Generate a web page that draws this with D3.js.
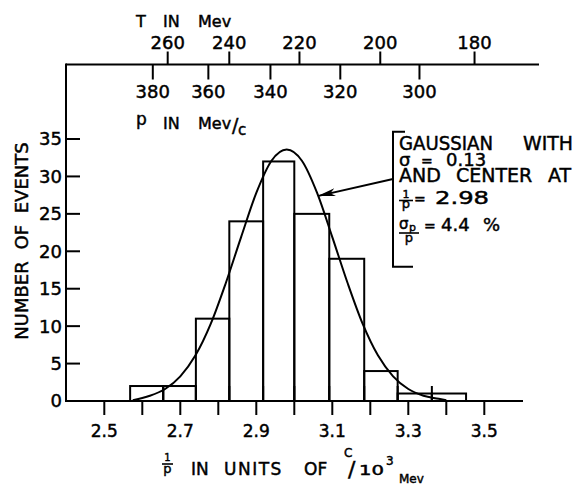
<!DOCTYPE html>
<html>
  <head>
    <meta charset="utf-8">
    <title>Number of events vs 1/p</title>
    <style>
      body { margin: 0; background: #fff; }
      svg text { font-family: "DejaVu Sans", sans-serif; fill: #000; stroke: #000; stroke-width: 0.45px; }
      .axis-line, .tick-line, .bar, .fit, .note-line {
        stroke: #000;
        stroke-width: 2;
        fill: none;
      }
    </style>
  </head>
  <body>
    <div id="chart"></div>
    <script src="https://d3js.org/d3.v7.min.js"></script>
    <script>
      // histogram bins (edges in 1/p, c/10^3 Mev) and counts
      var binEdges = [2.568, 2.655, 2.741, 2.829, 2.918, 3.000, 3.092, 3.184, 3.272, 3.362, 3.452];
      var counts = [2, 2, 11, 24, 32, 25, 19, 4, 1, 1];

      // gaussian curve
      var fitX = [2.575, 2.60, 2.62, 2.66, 2.70, 2.74, 2.78, 2.82, 2.86, 2.90, 2.94, 2.98,
                  3.02, 3.06, 3.10, 3.14, 3.18, 3.22, 3.26, 3.30, 3.34, 3.38, 3.40];
      var fitY = [0.1, 0.4, 0.7, 1.6, 3.3, 6.1, 10.3, 15.8, 21.9, 27.8, 32.1, 33.6,
                  32.1, 27.8, 21.9, 15.8, 10.3, 6.1, 3.3, 1.6, 0.7, 0.3, 0.1];

      var yTicks = [0, 5, 10, 15, 20, 25, 30, 35];
      var xTicks = [2.5, 2.6, 2.7, 2.8, 2.9, 3.0, 3.1, 3.2, 3.3, 3.4, 3.5];
      var xTickLabels = ['2.5', '', '2.7', '', '2.9', '', '3.1', '', '3.3', '', '3.5'];
      var pTicks = [380, 360, 340, 320, 300];   // p in Mev/c
      var tTicks = [260, 240, 220, 200, 180];   // T in Mev
      var pionMass = 139.6;

      var width = 575, height = 485;

      var svg = d3.select('#chart').append('svg')
        .attr('width', width)
        .attr('height', height);

      var x = d3.scaleLinear().domain([2.5, 3.5]).range([104.3, 484.3]);
      var xTop = x.copy().range([102.8, 482.8]);
      var y = d3.scaleLinear().domain([0, 35]).range([401, 139]);

      var left = 66, baseY = y(0), topY = 64.5;

      // frame lines
      svg.append('line').attr('class', 'axis-line')
        .attr('x1', left).attr('x2', 523).attr('y1', baseY).attr('y2', baseY);
      svg.append('line').attr('class', 'axis-line')
        .attr('x1', left).attr('x2', 539).attr('y1', topY).attr('y2', topY);
      svg.append('line').attr('class', 'axis-line')
        .attr('x1', left).attr('x2', left).attr('y1', topY - 1).attr('y2', baseY + 1);

      // left axis
      svg.selectAll('.ytick').data(yTicks).enter().append('line')
        .attr('class', 'tick-line')
        .attr('x1', left).attr('x2', left + 14)
        .attr('y1', function(d) { return y(d); })
        .attr('y2', function(d) { return y(d); });
      svg.selectAll('.ylab').data(yTicks).enter().append('text')
        .attr('x', 62)
        .attr('y', function(d) { return y(d); })
        .attr('dy', '0.36em')
        .attr('text-anchor', 'end')
        .style('font-size', '18px')
        .text(function(d) { return d; });
      svg.append('text')
        .attr('transform', 'translate(28,241) rotate(-90)')
        .attr('text-anchor', 'middle')
        .style('font-size', '18px')
        .style('word-spacing', '6px')
        .text('NUMBER OF EVENTS');

      // bottom axis
      svg.selectAll('.xtick').data(xTicks).enter().append('line')
        .attr('class', 'tick-line')
        .attr('x1', function(d) { return x(d); })
        .attr('x2', function(d) { return x(d); })
        .attr('y1', baseY).attr('y2', baseY + 14);
      svg.selectAll('.xlab').data(xTicks).enter().append('text')
        .attr('x', function(d) { return x(d); })
        .attr('y', 437)
        .attr('text-anchor', 'middle')
        .style('font-size', '17px')
        .text(function(d, i) { return xTickLabels[i]; });

      // small inward ticks at the bin edges
      svg.selectAll('.btick').data(binEdges.slice(1, -1)).enter().append('line')
        .attr('class', 'tick-line')
        .attr('x1', function(d) { return x(d); })
        .attr('x2', function(d) { return x(d); })
        .attr('y1', baseY).attr('y2', baseY - 15);

      // histogram
      svg.selectAll('.bar').data(counts).enter().append('rect')
        .attr('class', 'bar')
        .attr('x', function(d, i) { return x(binEdges[i]); })
        .attr('width', function(d, i) { return x(binEdges[i + 1]) - x(binEdges[i]); })
        .attr('y', function(d) { return y(d); })
        .attr('height', function(d) { return baseY - y(d); });

      // gaussian
      var fitPts = fitX.map(function(v, i) { return [v, fitY[i]]; });
      svg.append('path').attr('class', 'fit')
        .attr('d', d3.line()
          .x(function(d) { return x(d[0]); })
          .y(function(d) { return y(d[1]); })
          .curve(d3.curveMonotoneX)(fitPts));

      // top axis: p ticks (down) and T ticks (up)
      svg.selectAll('.ptick').data(pTicks).enter().append('line')
        .attr('class', 'tick-line')
        .attr('x1', function(d) { return xTop(1000 / d); })
        .attr('x2', function(d) { return xTop(1000 / d); })
        .attr('y1', topY).attr('y2', topY + 15);
      svg.selectAll('.plab').data(pTicks).enter().append('text')
        .attr('x', function(d) { return xTop(1000 / d); })
        .attr('y', 97.5)
        .attr('text-anchor', 'middle')
        .style('font-size', '18px')
        .text(function(d) { return d; });

      function tToP(t) { return Math.sqrt(t * t + 2 * t * pionMass); }
      svg.selectAll('.ttick').data(tTicks).enter().append('line')
        .attr('class', 'tick-line')
        .attr('x1', function(d) { return xTop(1000 / tToP(d)); })
        .attr('x2', function(d) { return xTop(1000 / tToP(d)); })
        .attr('y1', topY).attr('y2', topY - 13);
      svg.selectAll('.tlab').data(tTicks).enter().append('text')
        .attr('x', function(d) { return xTop(1000 / tToP(d)); })
        .attr('y', 48.5)
        .attr('text-anchor', 'middle')
        .style('font-size', '18px')
        .text(function(d) { return d; });

      // top axis titles
      var tTitle = svg.append('text').attr('y', 26.5).style('font-size', '16px');
      tTitle.append('tspan').attr('x', 136).text('T');
      tTitle.append('tspan').attr('x', 163).text('IN');
      tTitle.append('tspan').attr('x', 198).text('Mev');

      var pTitle = svg.append('text').style('font-size', '16px');
      pTitle.append('tspan').attr('x', 136).attr('y', 125).style('font-size', '17px').text('p');
      pTitle.append('tspan').attr('x', 163).attr('y', 128.5).text('IN');
      pTitle.append('tspan').attr('x', 198).attr('y', 128.5).text('Mev');
      pTitle.append('tspan').attr('x', 232).attr('y', 132).style('font-size', '19px').text('/');
      pTitle.append('tspan').attr('x', 238).attr('y', 135).style('font-size', '15px').text('c');

      // bottom axis title
      svg.append('text').attr('x', 167.5).attr('y', 461).attr('text-anchor', 'middle')
        .style('font-size', '10px').text('1');
      svg.append('line').attr('class', 'note-line')
        .attr('x1', 162).attr('x2', 173).attr('y1', 464).attr('y2', 464)
        .style('stroke-width', 1.6);
      svg.append('text').attr('x', 167.5).attr('y', 473).attr('text-anchor', 'middle')
        .style('font-size', '13px').text('p');
      var xTitle = svg.append('text').attr('y', 475).style('font-size', '17px');
      xTitle.append('tspan').attr('x', 191).text('IN');
      xTitle.append('tspan').attr('x', 224).style('letter-spacing', '1.5px').text('UNITS');
      xTitle.append('tspan').attr('x', 304).text('OF');
      xTitle.append('tspan').attr('x', 344).attr('y', 457).style('font-size', '12px').text('C');
      xTitle.append('tspan').attr('x', 348).attr('y', 477).style('font-size', '22px').text('/');
      xTitle.append('tspan').attr('x', 359).attr('y', 475).style('font-size', '14px')
        .attr('textLength', 25).attr('lengthAdjust', 'spacingAndGlyphs').text('10');
      xTitle.append('tspan').attr('x', 386).attr('y', 465).style('font-size', '12px').text('3');
      xTitle.append('tspan').attr('x', 399).attr('y', 482.5).style('font-size', '12px').text('Mev');

      // annotation bracket and text
      var bx = 393;
      svg.append('path').attr('class', 'note-line')
        .attr('d', 'M' + (bx + 12) + ',131.7H' + bx + 'V266.7H' + (bx + 20));

      var n1 = svg.append('text').attr('y', 149.5).style('font-size', '19px');
      n1.append('tspan').attr('x', 399)
        .attr('textLength', 94).attr('lengthAdjust', 'spacingAndGlyphs').text('GAUSSIAN');
      n1.append('tspan').attr('x', 523)
        .attr('textLength', 50).attr('lengthAdjust', 'spacingAndGlyphs').text('WITH');

      var n2 = svg.append('text').attr('y', 165.5).style('font-size', '18px');
      n2.append('tspan').attr('x', 399).text('\u03c3');
      n2.append('tspan').attr('x', 421).style('font-size', '14px').text('=');
      n2.append('tspan').attr('x', 446).text('0.13');

      var n3 = svg.append('text').attr('y', 182).style('font-size', '19px');
      n3.append('tspan').attr('x', 399).text('AND');
      n3.append('tspan').attr('x', 456).text('CENTER');
      n3.append('tspan').attr('x', 548).text('AT');

      svg.append('text').attr('x', 406).attr('y', 197.5).attr('text-anchor', 'middle')
        .style('font-size', '11px').text('1');
      svg.append('line').attr('class', 'note-line')
        .attr('x1', 399).attr('x2', 413).attr('y1', 200.5).attr('y2', 200.5)
        .style('stroke-width', 1.6);
      svg.append('text').attr('x', 406).attr('y', 208).attr('text-anchor', 'middle')
        .style('font-size', '13px').text('p');
      var n4 = svg.append('text').attr('y', 203.5).style('font-size', '18px');
      n4.append('tspan').attr('x', 414).style('font-size', '14px').text('=');
      n4.append('tspan').attr('x', 435)
        .attr('textLength', 54).attr('lengthAdjust', 'spacingAndGlyphs').text('2.98');

      var n5a = svg.append('text').attr('y', 229).style('font-size', '15px');
      n5a.append('tspan').attr('x', 399).text('\u03c3');
      n5a.append('tspan').attr('x', 409).attr('y', 231).style('font-size', '11px').text('p');
      svg.append('line').attr('class', 'note-line')
        .attr('x1', 399).attr('x2', 419).attr('y1', 233).attr('y2', 233)
        .style('stroke-width', 1.6);
      svg.append('text').attr('x', 409).attr('y', 242).attr('text-anchor', 'middle')
        .style('font-size', '13px').text('p');
      var n5 = svg.append('text').attr('y', 230.5).style('font-size', '18px');
      n5.append('tspan').attr('x', 424).style('font-size', '14px').text('=');
      n5.append('tspan').attr('x', 441).text('4.4');
      n5.append('tspan').attr('x', 483).text('%');

      // arrow from the bracket to the curve
      svg.append('defs').append('marker')
        .attr('id', 'head')
        .attr('viewBox', '0 0 18 8')
        .attr('refX', 17).attr('refY', 4)
        .attr('markerWidth', 18).attr('markerHeight', 8)
        .attr('markerUnits', 'userSpaceOnUse')
        .attr('orient', 'auto')
        .append('path').attr('d', 'M0,0L18,4L0,8L5,4Z').attr('fill', '#000');
      svg.append('line').attr('class', 'note-line')
        .attr('x1', bx).attr('y1', 179)
        .attr('x2', x(3.064)).attr('y2', y(27.4))
        .attr('marker-end', 'url(#head)');
    </script>
  </body>
</html>
